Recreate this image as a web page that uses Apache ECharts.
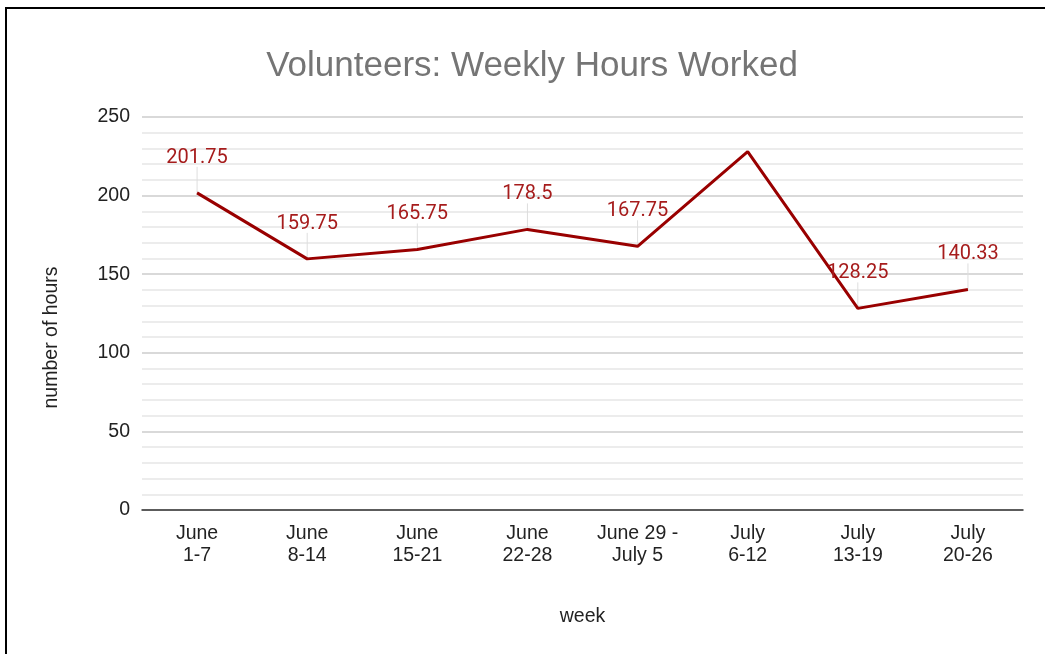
<!DOCTYPE html>
<html>
<head>
<meta charset="utf-8">
<script src="https://cdn.jsdelivr.net/npm/echarts@6/dist/echarts.min.js"></script>
<style>
  html, body { margin: 0; padding: 0; background: #fff; }
  #frame {
    position: absolute; left: 5px; top: 7px; width: 1045px; height: 660px;
    border-top: 2px solid #000; border-left: 2px solid #000;
  }
  #main { position: absolute; left: 0; top: 0; width: 1045px; height: 654px; }
</style>
</head>
<body>
<div id="frame"></div>
<div id="main"></div>
<script>
const weeks = ["June\n1-7", "June\n8-14", "June\n15-21", "June\n22-28", "June 29 -\nJuly 5", "July\n6-12", "July\n13-19", "July\n20-26"]
const hours = [201.75, 159.75, 165.75, 178.5, 167.75, 228, 128.25, 140.33]
// the chart leaves the peak week unlabelled
const hiddenLabels = [5]
const yTicks = [0, 50, 100, 150, 200, 250]

const chart = echarts.init(document.getElementById("main"))

const lineData = hours.map((v, i) =>
  hiddenLabels.includes(i) ? { value: v, label: { show: false } } : v
)
const leaderData = hours
  .map((v, i) => [i, v])
  .filter(d => !hiddenLabels.includes(d[0]))

const option = {
  animation: false,
  title: {
    text: "Volunteers: Weekly Hours Worked",
    left: 527,
    textAlign: "center",
    top: 44,
    textStyle: { fontFamily: "Liberation Sans", fontSize: 35, fontWeight: "normal", color: "#757575" },
  },
  grid: { left: 142, right: 22, top: 117, bottom: 144 },
  xAxis: {
    type: "category",
    data: weeks,
    boundaryGap: true,
    name: "week",
    nameLocation: "middle",
    nameGap: 97,
    nameTextStyle: { fontFamily: "Liberation Sans", fontSize: 19.5, color: "#222" },
    axisLine: { lineStyle: { color: "#333", width: 1.5 } },
    axisTick: { show: false },
    axisLabel: { fontFamily: "Liberation Sans", fontSize: 19.5, color: "#222", lineHeight: 22, margin: 13, interval: 0 },
  },
  yAxis: {
    type: "value",
    min: yTicks[0],
    max: yTicks[yTicks.length - 1],
    interval: 50,
    name: "number of hours",
    nameLocation: "middle",
    nameGap: 80,
    nameTextStyle: { fontFamily: "Liberation Sans", fontSize: 19.5, color: "#222", padding: [0, 0, 0, -48] },
    axisLine: { show: false },
    axisTick: { show: false },
    axisLabel: { fontFamily: "Liberation Sans", fontSize: 19.5, color: "#222", margin: 12 },
    splitLine: { lineStyle: { color: "#cccccc", width: 1.5 } },
    minorTick: { show: false, splitNumber: 5 },
    minorSplitLine: { show: true, lineStyle: { color: "#e6e6e6", width: 1.5 } },
  },
  series: [
    {
      // thin leader lines between each point and its label
      type: "custom",
      data: leaderData,
      z: 1,
      silent: true,
      renderItem: (params, api) => {
        const p = api.coord([api.value(0), api.value(1)])
        return {
          type: "line",
          shape: { x1: p[0], y1: p[1], x2: p[0], y2: p[1] - 26 },
          style: { stroke: "#dedede", lineWidth: 1 },
        }
      },
    },
    {
      type: "line",
      data: lineData,
      z: 3,
      symbol: "circle",
      symbolSize: 0,
      showSymbol: true,
      lineStyle: { color: "#990000", width: 3 },
      itemStyle: { color: "#990000" },
      label: {
        show: true,
        position: "top",
        distance: 25,
        fontFamily: "Roboto",
        fontSize: 20,
        color: "#a61c1c",
      },
    },
  ],
}

chart.setOption(option)
</script>
</body>
</html>
